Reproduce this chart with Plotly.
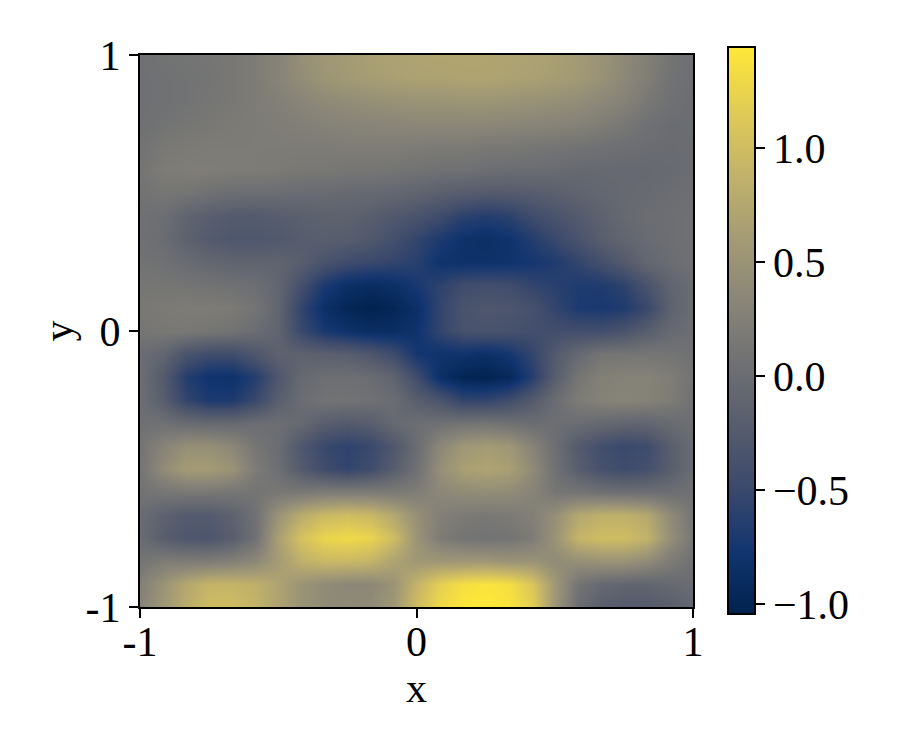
import plotly.graph_objects as go

# sample positions along each axis, the value rows below start at y=1
xs = [i / 12 - 1 for i in range(25)]
ys = [1 - i / 12 for i in range(25)]
z = [
    [.05, .08, .1, .12, .15, .2, .3, .45, .55, .6, .65, .68, .7, .72, .72, .72, .7, .68, .65, .6, .5, .38, .25, .1, .03],
    [.05, .06, .08, .1, .15, .2, .3, .42, .52, .58, .62, .65, .68, .68, .7, .7, .68, .66, .62, .58, .48, .36, .22, .08, .02],
    [.05, .06, .08, .12, .15, .2, .25, .32, .38, .42, .45, .48, .5, .5, .52, .52, .5, .48, .45, .42, .36, .28, .15, .05, 0],
    [.05, .08, .12, .15, .18, .2, .22, .25, .28, .3, .32, .33, .35, .35, .35, .35, .33, .32, .3, .28, .22, .15, .05, 0, 0],
    [.08, .15, .18, .2, .2, .2, .2, .2, .2, .22, .22, .22, .2, .18, .18, .15, .15, .12, .1, .08, .05, .02, 0, -.02, 0],
    [.1, .2, .22, .22, .2, .2, .18, .15, .15, .12, .12, .1, .08, .05, .05, .02, 0, 0, -.02, -.05, -.05, -.05, -.05, -.03, 0],
    [.08, .12, .1, .05, .02, 0, 0, -.02, -.02, -.05, -.05, -.08, -.12, -.18, -.22, -.25, -.25, -.22, -.18, -.12, -.08, -.05, -.03, 0, .02],
    [.05, .02, -.12, -.2, -.25, -.25, -.22, -.18, -.15, -.15, -.2, -.28, -.35, -.45, -.6, -.65, -.6, -.45, -.35, -.25, -.15, -.05, 0, .02, .05],
    [.05, 0, -.15, -.25, -.3, -.3, -.28, -.22, -.2, -.22, -.28, -.4, -.55, -.7, -.82, -.85, -.8, -.65, -.5, -.35, -.2, -.1, -.02, .02, .05],
    [.08, .05, -.02, -.08, -.12, -.12, -.12, -.2, -.35, -.45, -.5, -.55, -.62, -.8, -.82, -.82, -.8, -.75, -.68, -.55, -.4, -.25, -.08, 0, .05],
    [.12, .12, .1, .08, .05, .02, -.1, -.4, -.7, -.85, -.9, -.85, -.72, -.58, -.45, -.42, -.45, -.55, -.62, -.68, -.68, -.58, -.35, -.12, 0],
    [.15, .18, .2, .2, .18, .1, -.1, -.55, -.85, -.98, -1.03, -.98, -.85, -.55, -.35, -.3, -.32, -.38, -.55, -.7, -.72, -.68, -.5, -.15, 0],
    [.12, .15, .15, .12, .08, 0, -.12, -.5, -.72, -.82, -.88, -.88, -.8, -.55, -.38, -.35, -.38, -.42, -.42, -.42, -.42, -.35, -.2, -.05, .02],
    [0, -.1, -.35, -.45, -.45, -.3, -.15, -.15, -.18, -.2, -.3, -.45, -.75, -.8, -.8, -.85, -.75, -.55, -.25, -.05, .1, .12, .12, .1, .05],
    [.02, -.25, -.65, -.8, -.82, -.65, -.3, -.05, .02, .03, 0, -.12, -.45, -.85, -1.0, -1.02, -.95, -.65, -.2, .12, .25, .28, .28, .22, .08],
    [.02, -.2, -.55, -.7, -.7, -.5, -.2, 0, .08, .08, .05, 0, -.2, -.35, -.55, -.55, -.45, -.25, 0, .2, .28, .3, .28, .2, .05],
    [.05, .05, -.02, -.05, -.05, 0, .02, -.05, -.2, -.25, -.2, -.05, .02, .05, .08, .1, .05, 0, .02, 0, -.05, -.1, -.1, -.02, .02],
    [.1, .3, .45, .45, .35, .12, 0, -.3, -.5, -.58, -.5, -.3, 0, .35, .55, .6, .55, .3, .02, -.25, -.42, -.5, -.45, -.2, 0],
    [.1, .4, .6, .6, .5, .2, .02, -.25, -.45, -.55, -.45, -.22, .05, .45, .65, .7, .65, .4, .05, -.2, -.38, -.45, -.4, -.2, 0],
    [.08, .12, .15, .15, .12, .1, .15, .15, .2, .2, .2, .18, .22, .35, .4, .42, .4, .3, .12, .1, .05, .02, .02, .02, .05],
    [0, -.15, -.25, -.25, -.15, .05, .5, .8, .95, 1.0, .95, .75, .45, .25, .18, .15, .18, .25, .45, .75, .85, .85, .75, .4, .1],
    [-.02, -.2, -.3, -.32, -.2, .05, .65, 1.05, 1.25, 1.3, 1.25, 1.0, .5, .2, .1, .08, .1, .2, .5, .9, 1.0, 1.0, .88, .45, .12],
    [.1, .2, .2, .2, .25, .35, .6, .85, .95, .95, .9, .7, .55, .55, .55, .55, .5, .5, .4, .45, .5, .5, .4, .2, .05],
    [.25, .5, .75, .9, .9, .85, .7, .5, .4, .35, .35, .5, .9, 1.2, 1.35, 1.4, 1.35, 1.1, .55, .1, -.05, -.1, -.1, -.05, 0],
    [.3, .55, .8, 1.0, 1.0, .9, .7, .5, .4, .38, .4, .55, 1.0, 1.3, 1.43, 1.45, 1.4, 1.2, .55, 0, -.2, -.25, -.25, -.2, -.1],
]
axis_ticks = [-1, 0, 1]
axis_labels = ["-1", "0", "1"]
cbar_ticks = [-1, -0.5, 0, 0.5, 1]
cbar_labels = ["\u22121.0", "\u22120.5", "0.0", "0.5", "1.0"]

fig = go.Figure(go.Heatmap(
    x=xs, y=ys, z=z,
    colorscale="Cividis", zmin=-1.044, zmax=1.443, zsmooth="best",
    colorbar=dict(
        lenmode="pixels", len=567, thicknessmode="pixels", thickness=27,
        x=1.063, xanchor="left", xpad=0, y=0.5009, yanchor="middle", ypad=0,
        outlinecolor="black", outlinewidth=2,
        tickvals=cbar_ticks, ticktext=cbar_labels,
        ticks="outside", ticklen=9, tickwidth=2, tickcolor="black",
        tickfont=dict(size=42),
    ),
))

axis_style = dict(
    tickvals=axis_ticks, ticktext=axis_labels, range=[-1, 1],
    ticks="outside", ticklen=9, tickwidth=2, tickcolor="black",
    showline=True, linecolor="black", linewidth=2, mirror=True,
    showgrid=False, zeroline=False, tickfont=dict(size=42),
)
fig.update_xaxes(title=dict(text="x", font=dict(size=42), standoff=6), ticklabelstandoff=-12, **axis_style)
fig.update_yaxes(title=dict(text="y", font=dict(size=42), standoff=0), **axis_style)

# page body adds 8px, so margins are a bit off the picture's frame
fig.update_layout(
    width=900, height=750,
    margin=dict(l=132, r=215, t=47, b=151),
    font=dict(family="Liberation Serif", color="black"),
    paper_bgcolor="white", plot_bgcolor="white",
)

fig.write_html("out.html")
